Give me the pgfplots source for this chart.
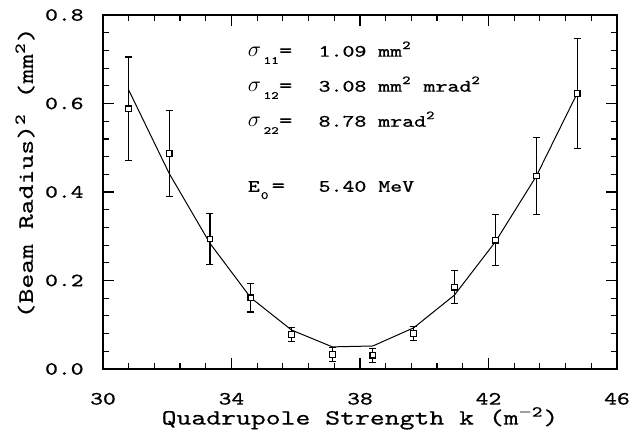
\documentclass[border=0pt]{standalone}
\usepackage{fontspec}
\setmainfont{Latin Modern Mono}[FakeStretch=1.3, FakeBold=0.4]
\usepackage{pgfplots}
\pgfplotsset{compat=1.18}
\pgfplotstableread{
x y e
30.79 0.588 0.117
32.06 0.487 0.098
33.33 0.294 0.058
34.60 0.161 0.032
35.87 0.078 0.016
37.14 0.033 0.016
38.40 0.031 0.016
39.67 0.080 0.016
40.94 0.185 0.037
42.22 0.291 0.058
43.49 0.436 0.087
44.76 0.623 0.124
}\meas
\newcommand{\annfont}{\fontsize{8.75}{11}\selectfont}
\newcommand{\subs}[1]{\raisebox{-3.6pt}{\fontsize{5.5}{6}\selectfont #1}}
\newcommand{\sig}[1]{{\fontsize{10.5}{12}\selectfont$\sigma$}\hspace{1.2pt}\subs{#1}{\fontsize{10}{12}\selectfont=}}
\begin{document}
\begin{tikzpicture}
\useasboundingbox (-51.5pt,-32pt) rectangle (270.5pt,184.5pt);
\begin{axis}[
  scale only axis, width=257pt, height=177pt,
  xmin=30, xmax=46, ymin=0, ymax=0.8,
  xtick={30,34,38,42,46}, ytick={0,0.2,0.4,0.6,0.8},
  minor x tick num=4, minor y tick num=4,
  tick align=inside, major tick length=5.5pt, minor tick length=3pt,
  axis line style={line width=0.75pt},
  every tick/.style={line width=0.6pt, black},
  /pgf/number format/assume math mode=true,
  yticklabel style={/pgf/number format/fixed,/pgf/number format/fixed zerofill,/pgf/number format/precision=1,
     font=\fontsize{9.4}{11}\selectfont, anchor=east, inner sep=0pt, xshift=-9.5pt},
  xticklabel style={font=\fontsize{9.4}{11}\selectfont, anchor=base, inner sep=0pt, yshift=-17.8pt},
  xlabel={Quadrupole Strength k (m\textsuperscript{$-$2})},
  ylabel={(Beam Radius)\textsuperscript{2} (mm\textsuperscript{2})},
  xlabel style={at={(axis description cs:0.5,-0.157)}, anchor=base, font=\fontsize{10.9}{13}\selectfont, inner sep=0pt},
  ylabel style={at={(axis description cs:-0.1518,0.554)}, anchor=center, font=\fontsize{10.9}{13}\selectfont, inner sep=0pt},
  clip=false,
]
\addplot[black, line width=0.5pt] coordinates {(30.79,0.632) (32.06,0.442) (33.33,0.284) (34.60,0.161) (35.87,0.088) (37.14,0.050) (38.40,0.052) (39.67,0.093) (40.94,0.167) (42.22,0.288) (43.49,0.436) (44.76,0.623)};
\addplot[black, only marks, mark=square*, mark size=1.4pt, mark options={fill=white, line width=0.6pt},
  error bars/.cd, y dir=both, y explicit, error bar style={line width=0.6pt},
  error mark=|, error mark options={line width=0.6pt, mark size=1.75pt}]
  table[x=x, y=y, y error=e] {\meas};
\node[anchor=base west, inner sep=0pt, font=\annfont] at (axis cs:34.50,0.7058) {\sig{11}};
\node[anchor=base west, inner sep=0pt, font=\annfont] at (axis cs:34.50,0.6267) {\sig{12}};
\node[anchor=base west, inner sep=0pt, font=\annfont] at (axis cs:34.50,0.5475) {\sig{22}};
\node[anchor=base west, inner sep=0pt, font=\annfont] at (axis cs:34.50,0.4005) {E\hspace{0.5pt}\subs{0}\hspace{1.5pt}{\fontsize{10}{12}\selectfont=}};
\node[anchor=base west, inner sep=0pt, font=\annfont] at (axis cs:36.70,0.7058) {1.09 mm\textsuperscript{2}};
\node[anchor=base west, inner sep=0pt, font=\annfont] at (axis cs:36.70,0.6267) {3.08 mm\textsuperscript{2} mrad\textsuperscript{2}};
\node[anchor=base west, inner sep=0pt, font=\annfont] at (axis cs:36.70,0.5475) {8.78 mrad\textsuperscript{2}};
\node[anchor=base west, inner sep=0pt, font=\annfont] at (axis cs:36.70,0.4005) {5.40 MeV};
\end{axis}
\end{tikzpicture}
\end{document}
